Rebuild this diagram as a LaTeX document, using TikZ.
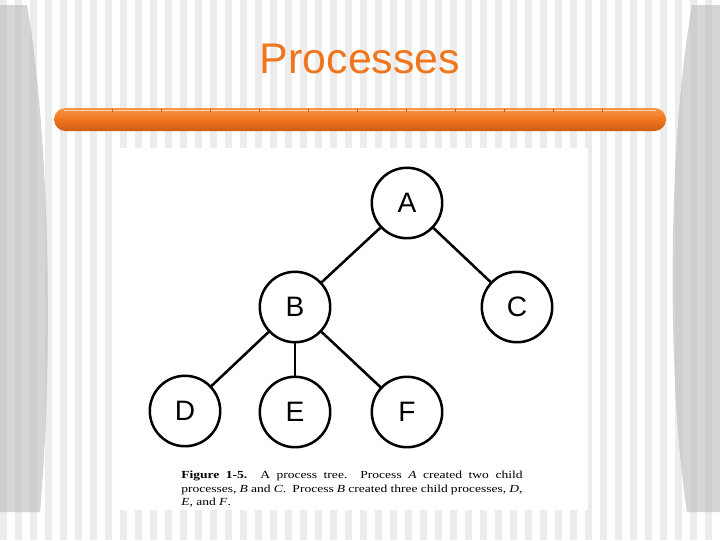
\documentclass[tikz,border=0pt]{standalone}
\usepackage{fontspec}
\setmainfont[FakeStretch=1.25]{Liberation Serif}
\newfontfamily\arialfont{Liberation Sans}
\usepackage{xcolor}
\usepackage{tikz}
\usetikzlibrary{calc}
\definecolor{SlideOrange}{RGB}{240,118,30}
\definecolor{BarTop}{RGB}{248,150,70}
\definecolor{BarBottom}{RGB}{205,92,18}
\definecolor{BarShine}{RGB}{252,214,180}
\definecolor{BarTick}{RGB}{190,95,30}
\definecolor{StripeGray}{RGB}{236,236,236}
\definecolor{PanelGray}{RGB}{213,213,213}
\definecolor{PanelStripe}{RGB}{206,206,206}
\tikzset{
  proc/.style = {circle, draw, line width=1.8pt, minimum size=1.76cm, inner sep=0pt,
    font=\arialfont\fontsize{20}{20}\selectfont},
  branch/.style = {line width=1.8pt},
}

\begin{document}
\begin{tikzpicture}[x=0.025cm, y=-0.025cm]
    \useasboundingbox (0,0) rectangle (720,540);
    \fill[white] (0,0) rectangle (720,540);
    \foreach \x in {0,15,...,705}
        \fill[StripeGray] (\x,0) rectangle ++(7,540);

    % side panels
    \begin{scope}
        \clip (0,5) -- (27,5) .. controls (52,150) and (52,380) .. (40,512) -- (0,512) -- cycle;
        \fill[PanelGray] (0,0) rectangle (60,540);
        \foreach \x in {0,15,30,45}
            \fill[PanelStripe] (\x,0) rectangle ++(7,540);
    \end{scope}
    \begin{scope}
        \clip (720,5) -- (692,5) .. controls (667,150) and (667,380) .. (687,512) -- (720,512) -- cycle;
        \fill[PanelGray] (660,0) rectangle (720,540);
        \foreach \x in {660,675,690,705}
            \fill[PanelStripe] (\x,0) rectangle ++(7,540);
    \end{scope}

    \node[anchor=base, text=SlideOrange, font=\arialfont\fontsize{30.5}{30.5}\selectfont] (title) at (360,73) {Processes};

    \shade[top color=BarTop, bottom color=BarBottom, middle color=SlideOrange,
        rounded corners=0.2875cm] (54,108) rectangle (666,131);
    \draw[line width=1pt, BarShine] (64,110.5) -- (656,110.5);
    \foreach \x in {112,161,...,650}
        \draw[line width=0.4pt, BarTick] (\x,108.5) -- (\x,112);

    \fill[white] (113,148) rectangle (588,510);

    \node[proc] (A) at (407,203) {A};
    \node[proc] (B) at (295,307) {B};
    \node[proc] (C) at (517,307) {C};
    \node[proc] (D) at (185,411) {D};
    \node[proc] (E) at (295,412) {E};
    \node[proc] (F) at (407,412) {F};

    \draw[branch] (A) -- (B);
    \draw[branch] (A) -- (C);
    \draw[branch] (B) -- (D);
    \draw[branch] (B) -- (E);
    \draw[branch] (B) -- (F);

    \node[anchor=base west, text width=8.53cm, align=justify, inner sep=0pt,
        font=\fontsize{7.7}{9.6}\selectfont] (caption) at (181,478.5)
        {\textbf{Figure 1-5.}\ \ A process tree.\ \ Process \textit{A} created two child\linebreak
        processes, \textit{B} and \textit{C}.\ \ Process \textit{B} created three child processes, \textit{D},\linebreak
        \textit{E}, and \textit{F}.};
\end{tikzpicture}
\end{document}
